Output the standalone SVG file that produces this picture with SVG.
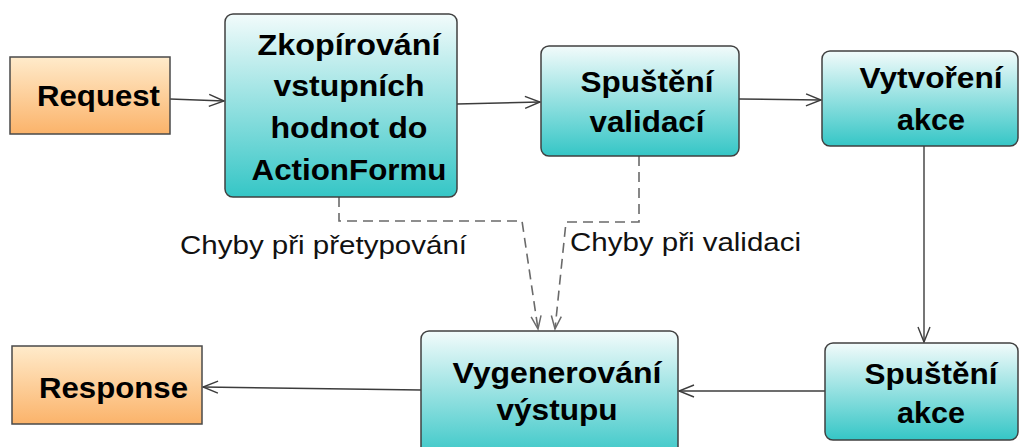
<svg xmlns="http://www.w3.org/2000/svg" width="1020" height="447" viewBox="0 0 1020 447">
<style>
.orange{fill:url(#gOrange);stroke:#4a4a4a;stroke-width:1.5}
.teal{fill:url(#gTeal);stroke:#404040;stroke-width:1.5}
.t{font-family:"Liberation Sans",Arial,sans-serif;font-weight:bold;font-size:30px;fill:#000;text-anchor:middle}
.lbl{font-family:"Liberation Sans",Arial,sans-serif;font-size:25px;fill:#111;text-anchor:middle}
.c{fill:none;stroke:#3c3c3c;stroke-width:1.4}
.d{fill:none;stroke:#6a6a6a;stroke-width:1.6;stroke-dasharray:10,6}
</style>
<defs>
<linearGradient id="gOrange" x1="0" y1="0" x2="0" y2="1">
<stop offset="0" stop-color="#FFEBCB"/>
<stop offset="1" stop-color="#FBB36A"/>
</linearGradient>
<linearGradient id="gTeal" x1="0" y1="0" x2="0" y2="1">
<stop offset="0" stop-color="#F2FBFB"/>
<stop offset="1" stop-color="#35C6C6"/>
</linearGradient>
<marker id="arr" markerUnits="userSpaceOnUse" markerWidth="18" markerHeight="14" refX="15" refY="6" orient="auto" overflow="visible">
<path d="M0,0 L15,6 L0,12" fill="none" stroke="#3c3c3c" stroke-width="1.4"/>
</marker>
<marker id="arrd" markerUnits="userSpaceOnUse" markerWidth="16" markerHeight="14" refX="13" refY="5" orient="auto" overflow="visible">
<path d="M0,0 L13,5 L0,10" fill="none" stroke="#6a6a6a" stroke-width="1.5"/>
</marker>
</defs>
<rect width="1020" height="447" fill="#fff"/>
<g id="connectors">
<path class="c" d="M170,99 L224,101" marker-end="url(#arr)"/>
<path class="c" d="M457,104 L540,102" marker-end="url(#arr)"/>
<path class="c" d="M739,99 L821,100" marker-end="url(#arr)"/>
<path class="c" d="M924,146 L924,342" marker-end="url(#arr)"/>
<path class="c" d="M825,391 L679,391" marker-end="url(#arr)"/>
<path class="c" d="M421,390 L203,387" marker-end="url(#arr)"/>
<path class="d" d="M339,197 L339,221 L522,221 L538,329" marker-end="url(#arrd)"/>
<path class="d" d="M639,156 L639,222 L566,222 L555,329" marker-end="url(#arrd)"/>
<text class="lbl" x="323.5" y="254" textLength="287" lengthAdjust="spacingAndGlyphs">Chyby při přetypování</text>
<text class="lbl" x="685.5" y="251" textLength="231" lengthAdjust="spacingAndGlyphs">Chyby při validaci</text>
</g>
<g id="request">
<rect class="orange" x="10" y="57" width="160" height="77"/>
<text class="t" x="98.5" y="106" textLength="123" lengthAdjust="spacingAndGlyphs">Request</text>
</g>
<g id="zkopirovani">
<rect class="teal" x="225" y="14" width="232" height="183" rx="8"/>
<text class="t" x="349" y="55" textLength="183" lengthAdjust="spacingAndGlyphs">Zkopírování</text>
<text class="t" x="349" y="96" textLength="151" lengthAdjust="spacingAndGlyphs">vstupních</text>
<text class="t" x="349" y="138" textLength="157" lengthAdjust="spacingAndGlyphs">hodnot do</text>
<text class="t" x="349" y="180" textLength="195" lengthAdjust="spacingAndGlyphs">ActionFormu</text>
</g>
<g id="validace">
<rect class="teal" x="541" y="46" width="198" height="110" rx="8"/>
<text class="t" x="647" y="92" textLength="133" lengthAdjust="spacingAndGlyphs">Spuštění</text>
<text class="t" x="647" y="132" textLength="115" lengthAdjust="spacingAndGlyphs">validací</text>
</g>
<g id="vytvoreni">
<rect class="teal" x="822" y="51" width="196" height="95" rx="8"/>
<text class="t" x="931" y="88" textLength="143" lengthAdjust="spacingAndGlyphs">Vytvoření</text>
<text class="t" x="931" y="130" textLength="68" lengthAdjust="spacingAndGlyphs">akce</text>
</g>
<g id="spusteni-akce">
<rect class="teal" x="825" y="343" width="193" height="97" rx="8"/>
<text class="t" x="931" y="384" textLength="133" lengthAdjust="spacingAndGlyphs">Spuštění</text>
<text class="t" x="931" y="423" textLength="68" lengthAdjust="spacingAndGlyphs">akce</text>
</g>
<g id="vygenerovani">
<rect class="teal" x="421" y="331" width="257" height="130" rx="8"/>
<text class="t" x="557" y="383" textLength="209" lengthAdjust="spacingAndGlyphs">Vygenerování</text>
<text class="t" x="557" y="420" textLength="121" lengthAdjust="spacingAndGlyphs">výstupu</text>
</g>
<g id="response">
<rect class="orange" x="12" y="346" width="190" height="78"/>
<text class="t" x="113.5" y="398" textLength="149" lengthAdjust="spacingAndGlyphs">Response</text>
</g>
</svg>
